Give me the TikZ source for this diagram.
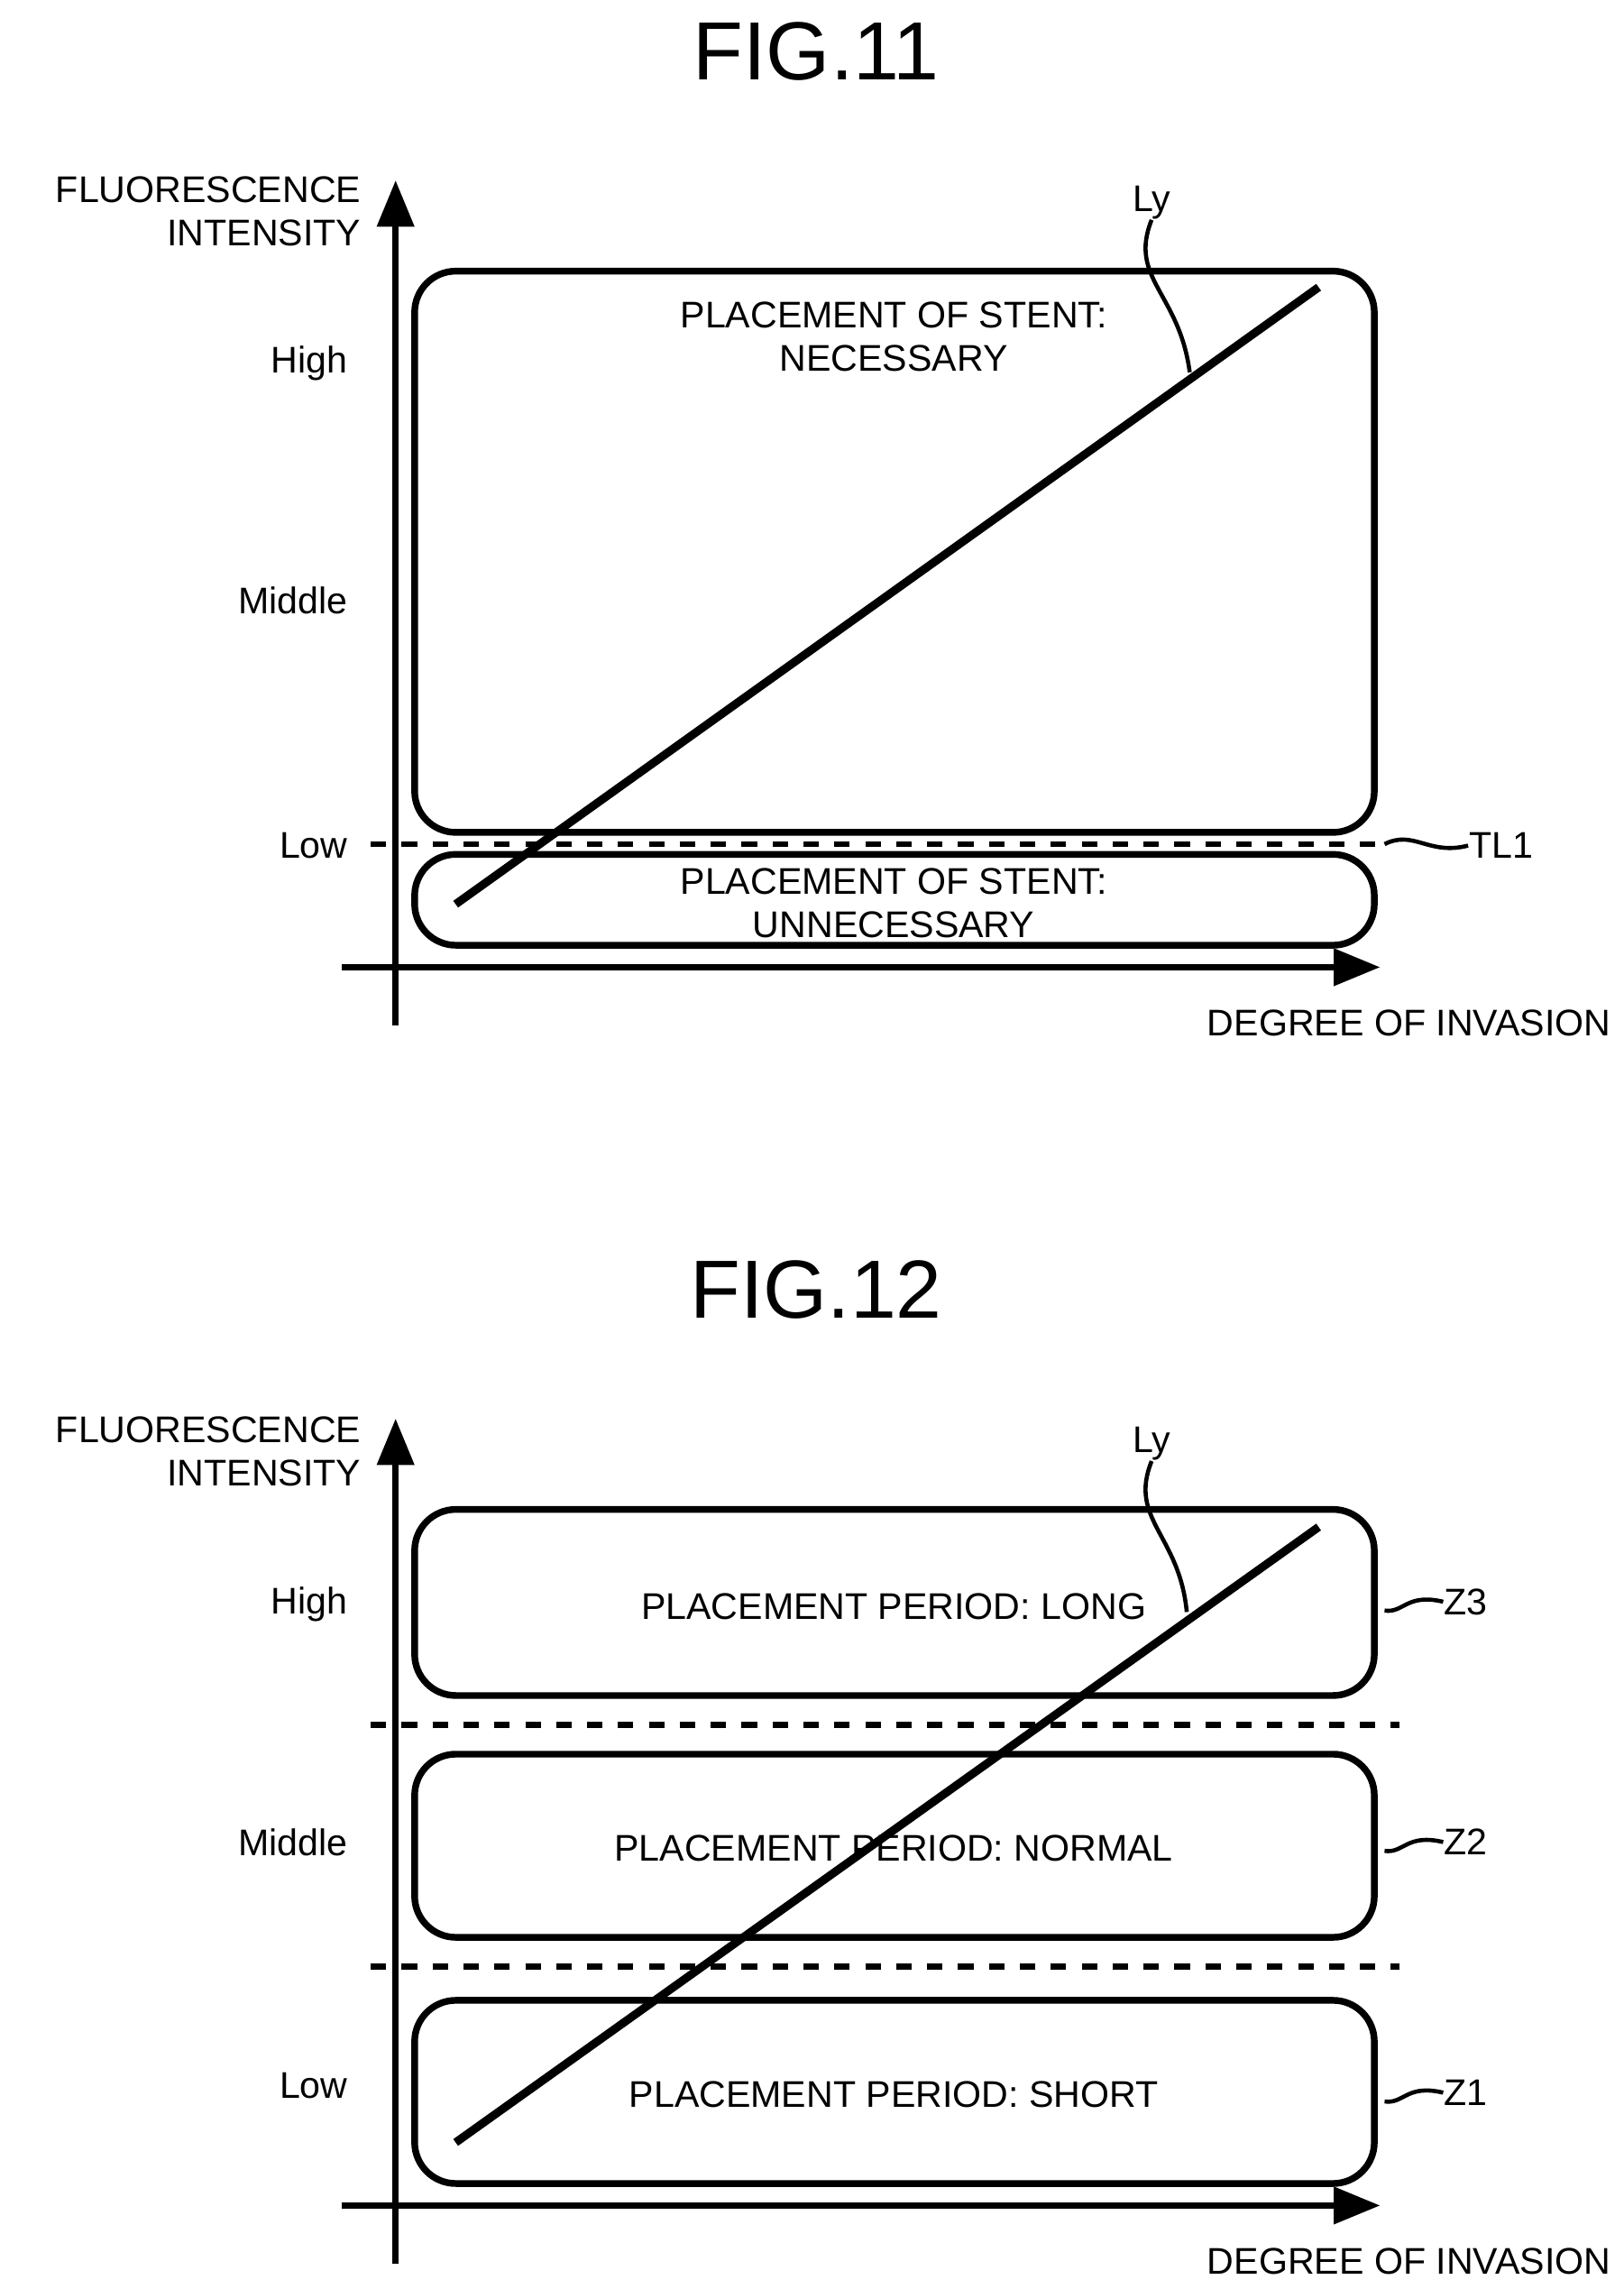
\documentclass[tikz,border=0pt]{standalone}
\usepackage{fontspec}
\setmainfont{Liberation Sans}
\usetikzlibrary{arrows.meta}
\tikzset{
  zone/.style={draw,line width=1.3pt,rounded corners=8pt},
  axis/.style={line width=1.3pt,-{Triangle[length=9pt,width=7pt]}},
  lbl/.style={font=\fontsize{7.2}{8.4}\selectfont,inner sep=0pt},
  thr/.style={dashed,line width=1.1pt},
  title/.style={font=\fontsize{16}{18}\selectfont,inner sep=0pt}
}
\begin{document}
\begin{tikzpicture}[x=0.01cm,y=-0.01cm]
  \useasboundingbox (0,0) rectangle (1108,1562);
  % FIG.11
  \node[title] (t11) at (557,35) {FIG.11};
  \coordinate (ya0) at (270,700); \coordinate (ya1) at (270,123);
  \coordinate (xa0) at (233,660); \coordinate (xa1) at (942,660);
  \draw[axis] (ya0) -- (ya1);
  \draw[axis] (xa0) -- (xa1);
  \node[lbl,anchor=north east,align=right] (yl) at (247,120) {FLUORESCENCE\\INTENSITY};
  \node[lbl,anchor=east] (xl) at (1100,698) {DEGREE OF INVASION};
  \node[lbl,anchor=east] (hi) at (238,248) {High};
  \node[lbl,anchor=east] (mi) at (238,410) {Middle};
  \node[lbl,anchor=east] (lo) at (238,577) {Low};
  \draw[zone] (283,185) rectangle (938,568);
  \draw[zone] (283,583) rectangle (938,645);
  \node[lbl,align=center] (nec) at (610,230) {PLACEMENT OF STENT:\\NECESSARY};
  \node[lbl,align=center] (unn) at (610,616) {PLACEMENT OF STENT:\\UNNECESSARY};
  \coordinate (d0) at (253,576); \coordinate (d1) at (945,576);
  \draw[thr] (d0) -- (d1);
  \node[lbl,anchor=west] (tl) at (1002,577) {TL1};
  \draw[line width=0.8pt] (d1) .. controls (965,566) and (975,584) .. (tl.west);
  \coordinate (l0) at (311,617); \coordinate (l1) at (900,196);
  \draw[line width=1.6pt] (l0) -- (l1);
  \node[lbl] (ly) at (786,138) {Ly};
  \draw[line width=0.8pt] (ly.south) .. controls (770,190) and (805,200) .. (812,254);
  % FIG.12
  \node[title] (t12) at (557,880) {FIG.12};
  \coordinate (yb0) at (270,1545); \coordinate (yb1) at (270,968);
  \coordinate (xb0) at (233,1505); \coordinate (xb1) at (942,1505);
  \draw[axis] (yb0) -- (yb1);
  \draw[axis] (xb0) -- (xb1);
  \node[lbl,anchor=north east,align=right] (yl2) at (247,966) {FLUORESCENCE\\INTENSITY};
  \node[lbl,anchor=east] (xl2) at (1100,1543) {DEGREE OF INVASION};
  \node[lbl,anchor=east] (hi2) at (238,1095) {High};
  \node[lbl,anchor=east] (mi2) at (238,1257) {Middle};
  \node[lbl,anchor=east] (lo2) at (238,1423) {Low};
  \draw[zone] (283,1030) rectangle (938,1157);
  \draw[zone] (283,1197) rectangle (938,1322);
  \draw[zone] (283,1365) rectangle (938,1490);
  \node[lbl] (long) at (610,1096) {PLACEMENT PERIOD: LONG};
  \node[lbl] (norm) at (610,1261) {PLACEMENT PERIOD: NORMAL};
  \node[lbl] (short) at (610,1429) {PLACEMENT PERIOD: SHORT};
  \draw[thr] (253,1177) -- (955,1177);
  \draw[thr] (253,1342) -- (955,1342);
  \foreach \yy/\nm in {1093/Z3,1257/Z2,1428/Z1}{
    \node[lbl,anchor=west] (\nm) at (985,\yy) {\nm};
    \draw[line width=0.8pt] (945,\yy+6) .. controls (958,\yy+8) and (960,\yy-6) .. (\nm.west);
  }
  \coordinate (m0) at (311,1462); \coordinate (m1) at (900,1042);
  \draw[line width=1.6pt] (m0) -- (m1);
  \node[lbl] (ly2) at (786,985) {Ly};
  \draw[line width=0.8pt] (ly2.south) .. controls (770,1037) and (805,1047) .. (810,1100);
\end{tikzpicture}
\end{document}
